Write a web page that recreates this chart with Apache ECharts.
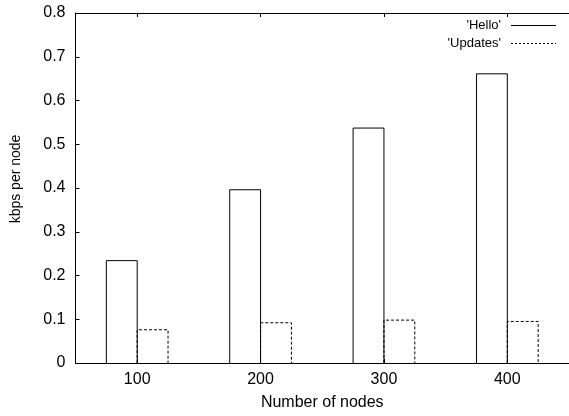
<!DOCTYPE html>
<html>
<head>
<meta charset="utf-8">
<script src="https://cdn.jsdelivr.net/npm/echarts@6/dist/echarts.min.js"></script>
<style>html,body{margin:0;padding:0;background:#fff;}#c{width:569px;height:416px;}</style>
</head>
<body>
<div id="c"></div>
<script>
const nodes = [100, 200, 300, 400];
const hello = [0.234, 0.396, 0.537, 0.661];
const updates = [0.076, 0.092, 0.098, 0.095];
const xTicks = [100, 200, 300, 400];
const seriesNames = ["'Hello'", "'Updates'"];
const xTitle = 'Number of nodes';
const yTitle = 'kbps per node';

const FONT = '"Liberation Sans", Arial, Helvetica, sans-serif';
const chart = echarts.init(document.getElementById('c'), null, {renderer: 'canvas'});

function barRenderer(side, dashed) {
  return function (params, api) {
    const x = api.value(0), y = api.value(1);
    const x0 = side < 0 ? x - 25 : x, x1 = side < 0 ? x : x + 25;
    const pTL = api.coord([x0, y]);
    const pBR = api.coord([x1, 0]);
    return {
      type: 'polyline',
      shape: {points: [[pTL[0], pBR[1]], [pTL[0], pTL[1]], [pBR[0], pTL[1]], [pBR[0], pBR[1]]]},
      style: {fill: null, stroke: '#000', lineWidth: 1, lineDash: dashed ? [3, 2] : null}
    };
  };
}

chart.setOption({
  animation: false,
  backgroundColor: '#fff',
  grid: {left: 75.5, top: 13, width: 500, height: 352, containLabel: false},
  xAxis: [{
    type: 'value', min: 50, max: 450, interval: 50,
    name: xTitle, nameLocation: 'middle', nameGap: 32,
    nameTextStyle: {fontFamily: FONT, fontSize: 16, color: '#000'},
    axisLine: {show: true, onZero: false, lineStyle: {color: '#000', width: 1}},
    axisTick: {show: true, inside: true, length: 4, customValues: xTicks, lineStyle: {color: '#000'}},
    axisLabel: {customValues: xTicks, fontFamily: FONT, fontSize: 16, color: '#000', margin: 9},
    splitLine: {show: false}
  }, {
    type: 'value', position: 'top', min: 50, max: 450, interval: 50,
    axisLine: {show: true, onZero: false, lineStyle: {color: '#000', width: 1}},
    axisTick: {show: true, inside: true, length: 4, customValues: xTicks, lineStyle: {color: '#000'}},
    axisLabel: {show: false},
    splitLine: {show: false}
  }],
  yAxis: {
    type: 'value', min: 0, max: 0.8, interval: 0.1,
    axisLine: {show: true, lineStyle: {color: '#000', width: 1}},
    axisTick: {show: true, inside: true, length: 4, lineStyle: {color: '#000'}},
    axisLabel: {fontFamily: FONT, fontSize: 16, color: '#000', margin: 10,
      formatter: v => (Math.round(v * 10) / 10).toString()},
    splitLine: {show: false}
  },
  series: [
    {name: seriesNames[0], type: 'custom', renderItem: barRenderer(-1, false),
     data: nodes.map((n, i) => [n, hello[i]]), z: 3},
    {name: seriesNames[1], type: 'custom', renderItem: barRenderer(1, true),
     data: nodes.map((n, i) => [n, updates[i]]), z: 3}
  ],
  graphic: [
    {type: 'text', x: 16.5, y: 179, rotation: Math.PI / 2,
     style: {text: yTitle, fontFamily: FONT, fontSize: 14, fill: '#000', align: 'center', verticalAlign: 'middle'}},
    {type: 'text', x: 501, y: 25.5, style: {text: seriesNames[0], fontFamily: FONT, fontSize: 13, fill: '#000', align: 'right', verticalAlign: 'middle'}},
    {type: 'line', shape: {x1: 511, y1: 25.5, x2: 556, y2: 25.5}, style: {stroke: '#000', lineWidth: 1}},
    {type: 'text', x: 501, y: 43, style: {text: seriesNames[1], fontFamily: FONT, fontSize: 13, fill: '#000', align: 'right', verticalAlign: 'middle'}},
    {type: 'line', shape: {x1: 511, y1: 43.5, x2: 556, y2: 43.5}, style: {stroke: '#000', lineWidth: 1, lineDash: [2, 2]}}
  ]
});
</script>
</body>
</html>
